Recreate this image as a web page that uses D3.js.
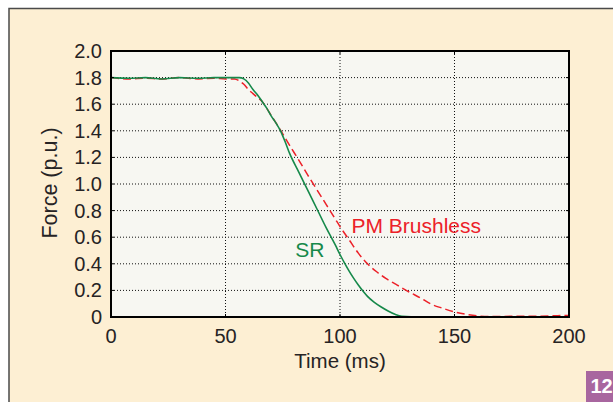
<!DOCTYPE html>
<html>
<head>
<meta charset="utf-8">
<script src="https://cdn.jsdelivr.net/npm/d3@7"></script>
<style>
    body { margin: 0; background: #fff; }
    svg { display: block; font-family: 'Liberation Sans', Arial, sans-serif; }
    .grid line { stroke: #111; stroke-width: 1; stroke-dasharray: 1,2; }
    .tick-label { fill: #262324; font-size: 20px; }
    .axis-title { fill: #262324; font-size: 20.5px; }
</style>
</head>
<body>
<div id="chart"></div>
<script>
// values
const xTicks = [0, 50, 100, 150, 200];
const yTicks = [0, 0.2, 0.4, 0.6, 0.8, 1.0, 1.2, 1.4, 1.6, 1.8, 2.0];
const yTickLabels = ['0', '0.2', '0.4', '0.6', '0.8', '1.0', '1.2', '1.4', '1.6', '1.8', '2.0'];

const srTime  = [0, 8, 15, 22, 30, 38, 45, 52, 56, 58, 60, 62, 64, 66, 68, 70, 72, 74, 76, 78, 82, 86, 90, 94, 98, 100, 102, 104, 106, 108, 110, 112, 115, 118, 121, 124, 127, 135, 145];
const srForce = [1.80, 1.795, 1.80, 1.79, 1.80, 1.795, 1.80, 1.80, 1.80, 1.79, 1.76, 1.71, 1.67, 1.62, 1.57, 1.51, 1.46, 1.40, 1.32, 1.23, 1.09, 0.95, 0.81, 0.67, 0.54, 0.47, 0.405, 0.345, 0.29, 0.24, 0.195, 0.155, 0.11, 0.075, 0.045, 0.02, 0.005, 0, 0];

const pmTime  = [0, 8, 15, 22, 30, 38, 45, 50, 54, 56, 58, 60, 62, 64, 66, 68, 70, 74, 78, 82, 86, 90, 94, 98, 100, 104, 108, 112, 116, 120, 125, 130, 135, 140, 145, 150, 155, 160, 165, 175, 185, 195, 200];
const pmForce = [1.80, 1.79, 1.795, 1.79, 1.80, 1.79, 1.795, 1.79, 1.79, 1.775, 1.75, 1.71, 1.68, 1.65, 1.62, 1.57, 1.515, 1.405, 1.29, 1.18, 1.065, 0.955, 0.845, 0.735, 0.68, 0.58, 0.48, 0.40, 0.34, 0.29, 0.24, 0.19, 0.145, 0.095, 0.065, 0.038, 0.02, 0.008, 0.003, 0.005, 0.005, 0.01, 0.012];

const seriesNames = ['SR', 'PM Brushless'];
const seriesColors = ['#16894a', '#ec2129'];

class ForceChart {

    constructor(_config) {
        this.config = {
            parentElement: _config.parentElement,
            containerWidth: _config.containerWidth || 613,
            containerHeight: _config.containerHeight || 402,
            margin: {top: 51, right: 44, bottom: 85, left: 111}
        }
        this.initVis();
    }

    initVis() {
        let vis = this;

        vis.width = vis.config.containerWidth - vis.config.margin.left - vis.config.margin.right;
        vis.height = vis.config.containerHeight - vis.config.margin.top - vis.config.margin.bottom;

        vis.svg = d3.select(vis.config.parentElement).append('svg')
            .attr('width', vis.config.containerWidth)
            .attr('height', vis.config.containerHeight);

        // cream panel behind the figure
        vis.svg.append('rect')
            .attr('x', 9).attr('y', 8.5)
            .attr('width', vis.config.containerWidth)
            .attr('height', vis.config.containerHeight)
            .attr('fill', '#fdefd3')
            .attr('stroke', '#4a4a4a')
            .attr('stroke-width', 1.5);

        vis.chart = vis.svg.append('g')
            .attr('transform', `translate(${vis.config.margin.left}, ${vis.config.margin.top})`);

        vis.xScale = d3.scaleLinear()
            .domain([0, 200])
            .range([0, vis.width]);
        vis.yScale = d3.scaleLinear()
            .domain([0, 2])
            .range([vis.height, 0]);

        vis.line = d3.line()
            .x(d => vis.xScale(d.t))
            .y(d => vis.yScale(d.f))
            .curve(d3.curveMonotoneX);
    }

    renderVis() {
        let vis = this;

        vis.chart.append('rect')
            .attr('width', vis.width)
            .attr('height', vis.height)
            .attr('fill', '#f7f7f2');

        vis.chart.append('clipPath').attr('id', 'plot-clip')
            .append('rect')
            .attr('width', vis.width)
            .attr('height', vis.height);

        // dotted grid
        const grid = vis.chart.append('g').attr('class', 'grid');
        grid.selectAll('.vx')
            .data(xTicks.slice(1, -1))
            .join('line')
            .attr('x1', d => vis.xScale(d)).attr('x2', d => vis.xScale(d))
            .attr('y1', 0).attr('y2', vis.height);
        grid.selectAll('.hy')
            .data(yTicks.slice(1, -1))
            .join('line')
            .attr('x1', 0).attr('x2', vis.width)
            .attr('y1', d => vis.yScale(d)).attr('y2', d => vis.yScale(d));

        // curves
        const srData = srTime.map((t, i) => ({t: t, f: srForce[i]}));
        const pmData = pmTime.map((t, i) => ({t: t, f: pmForce[i]}));

        const curves = vis.chart.append('g').attr('clip-path', 'url(#plot-clip)');
        curves.append('path')
            .attr('d', vis.line(pmData))
            .attr('fill', 'none')
            .attr('stroke', seriesColors[1])
            .attr('stroke-width', 1.5)
            .attr('stroke-dasharray', '8,4');
        curves.append('path')
            .attr('d', vis.line(srData))
            .attr('fill', 'none')
            .attr('stroke', seriesColors[0])
            .attr('stroke-width', 1.6);

        // inner ticks on all four sides
        const tickLen = 3;
        const ticks = vis.chart.append('g').attr('stroke', '#000').attr('stroke-width', 1);
        xTicks.forEach(d => {
            ticks.append('line').attr('x1', vis.xScale(d)).attr('x2', vis.xScale(d)).attr('y1', vis.height).attr('y2', vis.height - tickLen);
            ticks.append('line').attr('x1', vis.xScale(d)).attr('x2', vis.xScale(d)).attr('y1', 0).attr('y2', tickLen);
        });
        yTicks.forEach(d => {
            ticks.append('line').attr('x1', 0).attr('x2', tickLen).attr('y1', vis.yScale(d)).attr('y2', vis.yScale(d));
            ticks.append('line').attr('x1', vis.width).attr('x2', vis.width - tickLen).attr('y1', vis.yScale(d)).attr('y2', vis.yScale(d));
        });

        // frame
        vis.chart.append('rect')
            .attr('width', vis.width)
            .attr('height', vis.height)
            .attr('fill', 'none')
            .attr('stroke', '#000')
            .attr('stroke-width', 2);

        // tick labels
        vis.chart.append('g').selectAll('text')
            .data(xTicks)
            .join('text')
            .attr('class', 'tick-label')
            .attr('x', d => vis.xScale(d))
            .attr('y', vis.height + 25.5)
            .attr('text-anchor', 'middle')
            .text(d => d);
        vis.chart.append('g').selectAll('text')
            .data(yTicks)
            .join('text')
            .attr('class', 'tick-label')
            .attr('x', -9)
            .attr('y', d => vis.yScale(d))
            .attr('dy', '0.35em')
            .attr('text-anchor', 'end')
            .text((d, i) => yTickLabels[i]);

        // axis titles
        vis.chart.append('text')
            .attr('class', 'axis-title')
            .attr('x', vis.width / 2 + 0)
            .attr('y', vis.height + 50.5)
            .attr('text-anchor', 'middle')
            .text('Time (ms)');
        vis.chart.append('text')
            .attr('class', 'axis-title')
            .attr('transform', `translate(-54.5, ${vis.yScale(1.0) - 1}) rotate(-90)`)
            .attr('text-anchor', 'middle')
            .style('font-size', '21.5px')
            .text('Force (p.u.)');

        // series labels
        vis.chart.append('text')
            .attr('x', vis.xScale(80.5))
            .attr('y', vis.yScale(0.453))
            .attr('fill', seriesColors[0])
            .style('font-size', '21px')
            .text(seriesNames[0]);
        vis.chart.append('text')
            .attr('x', vis.xScale(105))
            .attr('y', vis.yScale(0.629))
            .attr('fill', seriesColors[1])
            .style('font-size', '21px')
            .text(seriesNames[1]);

        // figure number badge
        vis.svg.append('rect')
            .attr('x', 586).attr('y', 371)
            .attr('width', 30).attr('height', 34)
            .attr('fill', '#a8669f');
        vis.svg.append('text')
            .attr('x', 590.5).attr('y', 392.5)
            .attr('fill', '#fff')
            .style('font-size', '20px')
            .style('font-weight', 'bold')
            .text('12');
    }
}

const chart = new ForceChart({parentElement: '#chart'});
chart.renderVis();
</script>
</body>
</html>
